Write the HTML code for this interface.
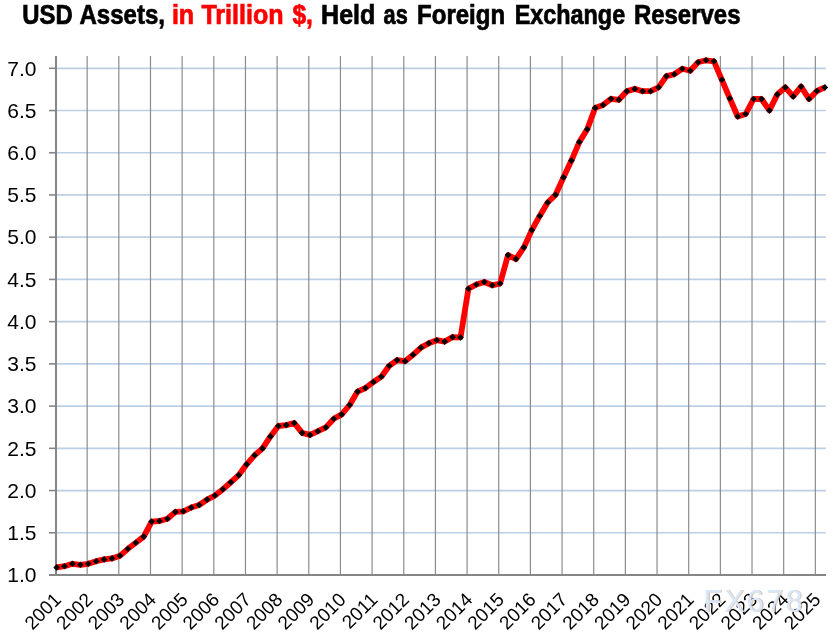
<!DOCTYPE html>
<html><head><meta charset="utf-8"><style>
html,body{margin:0;padding:0;background:#fff;width:833px;height:637px;overflow:hidden}
svg{position:absolute;left:0;top:0;display:block;will-change:transform}
text{font-family:"Liberation Sans",sans-serif}
</style></head><body>
<svg width="833" height="637" viewBox="0 0 833 637">
<g font-size="27.3" font-weight="bold" stroke-width="0.7"><text x="22.32" y="24" lengthAdjust="spacingAndGlyphs" textLength="50.44" fill="#000" stroke="#000">USD</text><text x="79.42" y="24" lengthAdjust="spacingAndGlyphs" textLength="85.57" fill="#000" stroke="#000">Assets,</text><text x="171.88" y="24" lengthAdjust="spacingAndGlyphs" textLength="22.28" fill="#f00" stroke="#f00">in</text><text x="201.40" y="24" lengthAdjust="spacingAndGlyphs" textLength="82.25" fill="#f00" stroke="#f00">Trillion</text><text x="292.40" y="24" lengthAdjust="spacingAndGlyphs" textLength="20.49" fill="#f00" stroke="#f00">$,</text><text x="321.08" y="24" lengthAdjust="spacingAndGlyphs" textLength="54.17" fill="#000" stroke="#000">Held</text><text x="383.60" y="24" lengthAdjust="spacingAndGlyphs" textLength="24.20" fill="#000" stroke="#000">as</text><text x="417.02" y="24" lengthAdjust="spacingAndGlyphs" textLength="88.14" fill="#000" stroke="#000">Foreign</text><text x="514.64" y="24" lengthAdjust="spacingAndGlyphs" textLength="110.53" fill="#000" stroke="#000">Exchange</text><text x="633.92" y="24" lengthAdjust="spacingAndGlyphs" textLength="106.56" fill="#000" stroke="#000">Reserves</text></g>
<line x1="56" x2="825.8" y1="532.77" y2="532.77" stroke="#bccfe6" stroke-width="1.7"/><line x1="56" x2="825.8" y1="490.55" y2="490.55" stroke="#bccfe6" stroke-width="1.7"/><line x1="56" x2="825.8" y1="448.32" y2="448.32" stroke="#bccfe6" stroke-width="1.7"/><line x1="56" x2="825.8" y1="406.10" y2="406.10" stroke="#bccfe6" stroke-width="1.7"/><line x1="56" x2="825.8" y1="363.88" y2="363.88" stroke="#bccfe6" stroke-width="1.7"/><line x1="56" x2="825.8" y1="321.65" y2="321.65" stroke="#bccfe6" stroke-width="1.7"/><line x1="56" x2="825.8" y1="279.43" y2="279.43" stroke="#bccfe6" stroke-width="1.7"/><line x1="56" x2="825.8" y1="237.20" y2="237.20" stroke="#bccfe6" stroke-width="1.7"/><line x1="56" x2="825.8" y1="194.97" y2="194.97" stroke="#bccfe6" stroke-width="1.7"/><line x1="56" x2="825.8" y1="152.75" y2="152.75" stroke="#bccfe6" stroke-width="1.7"/><line x1="56" x2="825.8" y1="110.52" y2="110.52" stroke="#bccfe6" stroke-width="1.7"/><line x1="56" x2="825.8" y1="68.30" y2="68.30" stroke="#bccfe6" stroke-width="1.7"/><line x1="87.16" x2="87.16" y1="56" y2="574" stroke="#8c8c8c" stroke-width="1.2"/><line x1="118.82" x2="118.82" y1="56" y2="574" stroke="#8c8c8c" stroke-width="1.2"/><line x1="150.48" x2="150.48" y1="56" y2="574" stroke="#8c8c8c" stroke-width="1.2"/><line x1="182.14" x2="182.14" y1="56" y2="574" stroke="#8c8c8c" stroke-width="1.2"/><line x1="213.80" x2="213.80" y1="56" y2="574" stroke="#8c8c8c" stroke-width="1.2"/><line x1="245.46" x2="245.46" y1="56" y2="574" stroke="#8c8c8c" stroke-width="1.2"/><line x1="277.12" x2="277.12" y1="56" y2="574" stroke="#8c8c8c" stroke-width="1.2"/><line x1="308.78" x2="308.78" y1="56" y2="574" stroke="#8c8c8c" stroke-width="1.2"/><line x1="340.44" x2="340.44" y1="56" y2="574" stroke="#8c8c8c" stroke-width="1.2"/><line x1="372.10" x2="372.10" y1="56" y2="574" stroke="#8c8c8c" stroke-width="1.2"/><line x1="403.76" x2="403.76" y1="56" y2="574" stroke="#8c8c8c" stroke-width="1.2"/><line x1="435.42" x2="435.42" y1="56" y2="574" stroke="#8c8c8c" stroke-width="1.2"/><line x1="467.08" x2="467.08" y1="56" y2="574" stroke="#8c8c8c" stroke-width="1.2"/><line x1="498.74" x2="498.74" y1="56" y2="574" stroke="#8c8c8c" stroke-width="1.2"/><line x1="530.40" x2="530.40" y1="56" y2="574" stroke="#8c8c8c" stroke-width="1.2"/><line x1="562.06" x2="562.06" y1="56" y2="574" stroke="#8c8c8c" stroke-width="1.2"/><line x1="593.72" x2="593.72" y1="56" y2="574" stroke="#8c8c8c" stroke-width="1.2"/><line x1="625.38" x2="625.38" y1="56" y2="574" stroke="#8c8c8c" stroke-width="1.2"/><line x1="657.04" x2="657.04" y1="56" y2="574" stroke="#8c8c8c" stroke-width="1.2"/><line x1="688.70" x2="688.70" y1="56" y2="574" stroke="#8c8c8c" stroke-width="1.2"/><line x1="720.36" x2="720.36" y1="56" y2="574" stroke="#8c8c8c" stroke-width="1.2"/><line x1="752.02" x2="752.02" y1="56" y2="574" stroke="#8c8c8c" stroke-width="1.2"/><line x1="783.68" x2="783.68" y1="56" y2="574" stroke="#8c8c8c" stroke-width="1.2"/><line x1="815.34" x2="815.34" y1="56" y2="574" stroke="#8c8c8c" stroke-width="1.2"/><line x1="49" x2="56" y1="575.00" y2="575.00" stroke="#868686" stroke-width="1.6"/><line x1="49" x2="56" y1="532.77" y2="532.77" stroke="#868686" stroke-width="1.6"/><line x1="49" x2="56" y1="490.55" y2="490.55" stroke="#868686" stroke-width="1.6"/><line x1="49" x2="56" y1="448.32" y2="448.32" stroke="#868686" stroke-width="1.6"/><line x1="49" x2="56" y1="406.10" y2="406.10" stroke="#868686" stroke-width="1.6"/><line x1="49" x2="56" y1="363.88" y2="363.88" stroke="#868686" stroke-width="1.6"/><line x1="49" x2="56" y1="321.65" y2="321.65" stroke="#868686" stroke-width="1.6"/><line x1="49" x2="56" y1="279.43" y2="279.43" stroke="#868686" stroke-width="1.6"/><line x1="49" x2="56" y1="237.20" y2="237.20" stroke="#868686" stroke-width="1.6"/><line x1="49" x2="56" y1="194.97" y2="194.97" stroke="#868686" stroke-width="1.6"/><line x1="49" x2="56" y1="152.75" y2="152.75" stroke="#868686" stroke-width="1.6"/><line x1="49" x2="56" y1="110.52" y2="110.52" stroke="#868686" stroke-width="1.6"/><line x1="49" x2="56" y1="68.30" y2="68.30" stroke="#868686" stroke-width="1.6"/><line x1="56" x2="56" y1="56" y2="576" stroke="#868686" stroke-width="2"/><line x1="49" x2="826" y1="575" y2="575" stroke="#868686" stroke-width="2"/>
<g font-size="21" fill="#000"><text x="36.5" y="582.20" text-anchor="end">1.0</text><text x="36.5" y="539.98" text-anchor="end">1.5</text><text x="36.5" y="497.75" text-anchor="end">2.0</text><text x="36.5" y="455.52" text-anchor="end">2.5</text><text x="36.5" y="413.30" text-anchor="end">3.0</text><text x="36.5" y="371.07" text-anchor="end">3.5</text><text x="36.5" y="328.85" text-anchor="end">4.0</text><text x="36.5" y="286.62" text-anchor="end">4.5</text><text x="36.5" y="244.40" text-anchor="end">5.0</text><text x="36.5" y="202.17" text-anchor="end">5.5</text><text x="36.5" y="159.95" text-anchor="end">6.0</text><text x="36.5" y="117.72" text-anchor="end">6.5</text><text x="36.5" y="75.50" text-anchor="end">7.0</text></g>
<path d="M56.60,567.40 L64.52,566.20 L72.44,563.80 L80.36,564.80 L88.28,563.80 L96.20,561.20 L104.12,559.40 L112.04,558.40 L119.96,555.80 L127.88,548.80 L135.80,542.80 L143.72,536.60 L151.64,521.60 L159.56,521.00 L167.48,518.80 L175.40,511.90 L183.32,511.30 L191.24,507.50 L199.16,505.00 L207.08,499.60 L215.00,495.50 L222.92,489.20 L230.84,482.30 L238.76,475.10 L246.68,464.30 L254.60,455.30 L262.52,448.40 L270.44,436.40 L278.36,426.00 L286.28,425.10 L294.20,423.00 L302.12,432.90 L310.04,434.90 L317.96,431.20 L325.88,427.40 L333.80,418.70 L341.72,414.40 L349.64,405.00 L357.56,391.60 L365.48,388.00 L373.40,382.00 L381.32,376.70 L389.24,365.80 L397.16,360.10 L405.08,361.20 L413.00,354.80 L420.92,347.60 L428.84,343.20 L436.76,340.20 L444.68,341.60 L452.60,337.10 L460.52,337.40 L468.44,288.80 L476.36,284.50 L484.28,282.00 L492.20,285.30 L500.12,283.50 L508.04,255.10 L515.96,259.10 L523.88,247.40 L531.80,230.10 L539.72,215.90 L547.64,202.50 L555.56,194.80 L563.48,177.40 L571.40,160.60 L579.32,142.10 L587.24,129.30 L595.16,107.90 L603.08,105.00 L611.00,98.80 L618.92,99.80 L626.84,91.30 L634.76,88.90 L642.68,91.20 L650.60,91.20 L658.52,87.40 L666.44,76.10 L674.36,74.20 L682.28,68.80 L690.20,70.70 L698.12,62.20 L706.04,60.30 L713.96,61.30 L721.88,79.80 L729.80,98.40 L737.72,116.50 L745.64,114.00 L753.56,99.00 L761.48,99.00 L769.40,110.40 L777.32,94.40 L785.24,87.40 L793.16,96.40 L801.08,86.60 L809.00,99.00 L816.92,91.00 L824.84,87.40" fill="none" stroke="#ff0000" stroke-width="5.8" stroke-linejoin="round" stroke-linecap="butt"/>
<g fill="#000"><path d="M56.60,564.10 L59.90,567.40 L56.60,570.70 L53.30,567.40Z"/><path d="M64.52,562.90 L67.82,566.20 L64.52,569.50 L61.22,566.20Z"/><path d="M72.44,560.50 L75.74,563.80 L72.44,567.10 L69.14,563.80Z"/><path d="M80.36,561.50 L83.66,564.80 L80.36,568.10 L77.06,564.80Z"/><path d="M88.28,560.50 L91.58,563.80 L88.28,567.10 L84.98,563.80Z"/><path d="M96.20,557.90 L99.50,561.20 L96.20,564.50 L92.90,561.20Z"/><path d="M104.12,556.10 L107.42,559.40 L104.12,562.70 L100.82,559.40Z"/><path d="M112.04,555.10 L115.34,558.40 L112.04,561.70 L108.74,558.40Z"/><path d="M119.96,552.50 L123.26,555.80 L119.96,559.10 L116.66,555.80Z"/><path d="M127.88,545.50 L131.18,548.80 L127.88,552.10 L124.58,548.80Z"/><path d="M135.80,539.50 L139.10,542.80 L135.80,546.10 L132.50,542.80Z"/><path d="M143.72,533.30 L147.02,536.60 L143.72,539.90 L140.42,536.60Z"/><path d="M151.64,518.30 L154.94,521.60 L151.64,524.90 L148.34,521.60Z"/><path d="M159.56,517.70 L162.86,521.00 L159.56,524.30 L156.26,521.00Z"/><path d="M167.48,515.50 L170.78,518.80 L167.48,522.10 L164.18,518.80Z"/><path d="M175.40,508.60 L178.70,511.90 L175.40,515.20 L172.10,511.90Z"/><path d="M183.32,508.00 L186.62,511.30 L183.32,514.60 L180.02,511.30Z"/><path d="M191.24,504.20 L194.54,507.50 L191.24,510.80 L187.94,507.50Z"/><path d="M199.16,501.70 L202.46,505.00 L199.16,508.30 L195.86,505.00Z"/><path d="M207.08,496.30 L210.38,499.60 L207.08,502.90 L203.78,499.60Z"/><path d="M215.00,492.20 L218.30,495.50 L215.00,498.80 L211.70,495.50Z"/><path d="M222.92,485.90 L226.22,489.20 L222.92,492.50 L219.62,489.20Z"/><path d="M230.84,479.00 L234.14,482.30 L230.84,485.60 L227.54,482.30Z"/><path d="M238.76,471.80 L242.06,475.10 L238.76,478.40 L235.46,475.10Z"/><path d="M246.68,461.00 L249.98,464.30 L246.68,467.60 L243.38,464.30Z"/><path d="M254.60,452.00 L257.90,455.30 L254.60,458.60 L251.30,455.30Z"/><path d="M262.52,445.10 L265.82,448.40 L262.52,451.70 L259.22,448.40Z"/><path d="M270.44,433.10 L273.74,436.40 L270.44,439.70 L267.14,436.40Z"/><path d="M278.36,422.70 L281.66,426.00 L278.36,429.30 L275.06,426.00Z"/><path d="M286.28,421.80 L289.58,425.10 L286.28,428.40 L282.98,425.10Z"/><path d="M294.20,419.70 L297.50,423.00 L294.20,426.30 L290.90,423.00Z"/><path d="M302.12,429.60 L305.42,432.90 L302.12,436.20 L298.82,432.90Z"/><path d="M310.04,431.60 L313.34,434.90 L310.04,438.20 L306.74,434.90Z"/><path d="M317.96,427.90 L321.26,431.20 L317.96,434.50 L314.66,431.20Z"/><path d="M325.88,424.10 L329.18,427.40 L325.88,430.70 L322.58,427.40Z"/><path d="M333.80,415.40 L337.10,418.70 L333.80,422.00 L330.50,418.70Z"/><path d="M341.72,411.10 L345.02,414.40 L341.72,417.70 L338.42,414.40Z"/><path d="M349.64,401.70 L352.94,405.00 L349.64,408.30 L346.34,405.00Z"/><path d="M357.56,388.30 L360.86,391.60 L357.56,394.90 L354.26,391.60Z"/><path d="M365.48,384.70 L368.78,388.00 L365.48,391.30 L362.18,388.00Z"/><path d="M373.40,378.70 L376.70,382.00 L373.40,385.30 L370.10,382.00Z"/><path d="M381.32,373.40 L384.62,376.70 L381.32,380.00 L378.02,376.70Z"/><path d="M389.24,362.50 L392.54,365.80 L389.24,369.10 L385.94,365.80Z"/><path d="M397.16,356.80 L400.46,360.10 L397.16,363.40 L393.86,360.10Z"/><path d="M405.08,357.90 L408.38,361.20 L405.08,364.50 L401.78,361.20Z"/><path d="M413.00,351.50 L416.30,354.80 L413.00,358.10 L409.70,354.80Z"/><path d="M420.92,344.30 L424.22,347.60 L420.92,350.90 L417.62,347.60Z"/><path d="M428.84,339.90 L432.14,343.20 L428.84,346.50 L425.54,343.20Z"/><path d="M436.76,336.90 L440.06,340.20 L436.76,343.50 L433.46,340.20Z"/><path d="M444.68,338.30 L447.98,341.60 L444.68,344.90 L441.38,341.60Z"/><path d="M452.60,333.80 L455.90,337.10 L452.60,340.40 L449.30,337.10Z"/><path d="M460.52,334.10 L463.82,337.40 L460.52,340.70 L457.22,337.40Z"/><path d="M468.44,285.50 L471.74,288.80 L468.44,292.10 L465.14,288.80Z"/><path d="M476.36,281.20 L479.66,284.50 L476.36,287.80 L473.06,284.50Z"/><path d="M484.28,278.70 L487.58,282.00 L484.28,285.30 L480.98,282.00Z"/><path d="M492.20,282.00 L495.50,285.30 L492.20,288.60 L488.90,285.30Z"/><path d="M500.12,280.20 L503.42,283.50 L500.12,286.80 L496.82,283.50Z"/><path d="M508.04,251.80 L511.34,255.10 L508.04,258.40 L504.74,255.10Z"/><path d="M515.96,255.80 L519.26,259.10 L515.96,262.40 L512.66,259.10Z"/><path d="M523.88,244.10 L527.18,247.40 L523.88,250.70 L520.58,247.40Z"/><path d="M531.80,226.80 L535.10,230.10 L531.80,233.40 L528.50,230.10Z"/><path d="M539.72,212.60 L543.02,215.90 L539.72,219.20 L536.42,215.90Z"/><path d="M547.64,199.20 L550.94,202.50 L547.64,205.80 L544.34,202.50Z"/><path d="M555.56,191.50 L558.86,194.80 L555.56,198.10 L552.26,194.80Z"/><path d="M563.48,174.10 L566.78,177.40 L563.48,180.70 L560.18,177.40Z"/><path d="M571.40,157.30 L574.70,160.60 L571.40,163.90 L568.10,160.60Z"/><path d="M579.32,138.80 L582.62,142.10 L579.32,145.40 L576.02,142.10Z"/><path d="M587.24,126.00 L590.54,129.30 L587.24,132.60 L583.94,129.30Z"/><path d="M595.16,104.60 L598.46,107.90 L595.16,111.20 L591.86,107.90Z"/><path d="M603.08,101.70 L606.38,105.00 L603.08,108.30 L599.78,105.00Z"/><path d="M611.00,95.50 L614.30,98.80 L611.00,102.10 L607.70,98.80Z"/><path d="M618.92,96.50 L622.22,99.80 L618.92,103.10 L615.62,99.80Z"/><path d="M626.84,88.00 L630.14,91.30 L626.84,94.60 L623.54,91.30Z"/><path d="M634.76,85.60 L638.06,88.90 L634.76,92.20 L631.46,88.90Z"/><path d="M642.68,87.90 L645.98,91.20 L642.68,94.50 L639.38,91.20Z"/><path d="M650.60,87.90 L653.90,91.20 L650.60,94.50 L647.30,91.20Z"/><path d="M658.52,84.10 L661.82,87.40 L658.52,90.70 L655.22,87.40Z"/><path d="M666.44,72.80 L669.74,76.10 L666.44,79.40 L663.14,76.10Z"/><path d="M674.36,70.90 L677.66,74.20 L674.36,77.50 L671.06,74.20Z"/><path d="M682.28,65.50 L685.58,68.80 L682.28,72.10 L678.98,68.80Z"/><path d="M690.20,67.40 L693.50,70.70 L690.20,74.00 L686.90,70.70Z"/><path d="M698.12,58.90 L701.42,62.20 L698.12,65.50 L694.82,62.20Z"/><path d="M706.04,57.00 L709.34,60.30 L706.04,63.60 L702.74,60.30Z"/><path d="M713.96,58.00 L717.26,61.30 L713.96,64.60 L710.66,61.30Z"/><path d="M721.88,76.50 L725.18,79.80 L721.88,83.10 L718.58,79.80Z"/><path d="M729.80,95.10 L733.10,98.40 L729.80,101.70 L726.50,98.40Z"/><path d="M737.72,113.20 L741.02,116.50 L737.72,119.80 L734.42,116.50Z"/><path d="M745.64,110.70 L748.94,114.00 L745.64,117.30 L742.34,114.00Z"/><path d="M753.56,95.70 L756.86,99.00 L753.56,102.30 L750.26,99.00Z"/><path d="M761.48,95.70 L764.78,99.00 L761.48,102.30 L758.18,99.00Z"/><path d="M769.40,107.10 L772.70,110.40 L769.40,113.70 L766.10,110.40Z"/><path d="M777.32,91.10 L780.62,94.40 L777.32,97.70 L774.02,94.40Z"/><path d="M785.24,84.10 L788.54,87.40 L785.24,90.70 L781.94,87.40Z"/><path d="M793.16,93.10 L796.46,96.40 L793.16,99.70 L789.86,96.40Z"/><path d="M801.08,83.30 L804.38,86.60 L801.08,89.90 L797.78,86.60Z"/><path d="M809.00,95.70 L812.30,99.00 L809.00,102.30 L805.70,99.00Z"/><path d="M816.92,87.70 L820.22,91.00 L816.92,94.30 L813.62,91.00Z"/><path d="M824.84,84.10 L828.14,87.40 L824.84,90.70 L821.54,87.40Z"/></g>
<g font-size="19" fill="#000"><text transform="translate(62.30,600.8) rotate(-45)" text-anchor="end">2001</text><text transform="translate(93.94,600.8) rotate(-45)" text-anchor="end">2002</text><text transform="translate(125.58,600.8) rotate(-45)" text-anchor="end">2003</text><text transform="translate(157.22,600.8) rotate(-45)" text-anchor="end">2004</text><text transform="translate(188.86,600.8) rotate(-45)" text-anchor="end">2005</text><text transform="translate(220.50,600.8) rotate(-45)" text-anchor="end">2006</text><text transform="translate(252.14,600.8) rotate(-45)" text-anchor="end">2007</text><text transform="translate(283.78,600.8) rotate(-45)" text-anchor="end">2008</text><text transform="translate(315.42,600.8) rotate(-45)" text-anchor="end">2009</text><text transform="translate(347.06,600.8) rotate(-45)" text-anchor="end">2010</text><text transform="translate(378.70,600.8) rotate(-45)" text-anchor="end">2011</text><text transform="translate(410.34,600.8) rotate(-45)" text-anchor="end">2012</text><text transform="translate(441.98,600.8) rotate(-45)" text-anchor="end">2013</text><text transform="translate(473.62,600.8) rotate(-45)" text-anchor="end">2014</text><text transform="translate(505.26,600.8) rotate(-45)" text-anchor="end">2015</text><text transform="translate(536.90,600.8) rotate(-45)" text-anchor="end">2016</text><text transform="translate(568.54,600.8) rotate(-45)" text-anchor="end">2017</text><text transform="translate(600.18,600.8) rotate(-45)" text-anchor="end">2018</text><text transform="translate(631.82,600.8) rotate(-45)" text-anchor="end">2019</text><text transform="translate(663.46,600.8) rotate(-45)" text-anchor="end">2020</text><text transform="translate(695.10,600.8) rotate(-45)" text-anchor="end">2021</text><text transform="translate(726.74,600.8) rotate(-45)" text-anchor="end">2022</text><text transform="translate(758.38,600.8) rotate(-45)" text-anchor="end">2023</text><text transform="translate(790.02,600.8) rotate(-45)" text-anchor="end">2024</text><text transform="translate(821.66,600.8) rotate(-45)" text-anchor="end">2025</text></g>
<g font-size="30.5" letter-spacing="2.3"><text x="704.4" y="612.3" fill="#c8a98c" opacity="0.7">FX678</text><text x="703.3" y="611.6" fill="#d9e7f8">FX678</text></g>
</svg>
</body></html>
